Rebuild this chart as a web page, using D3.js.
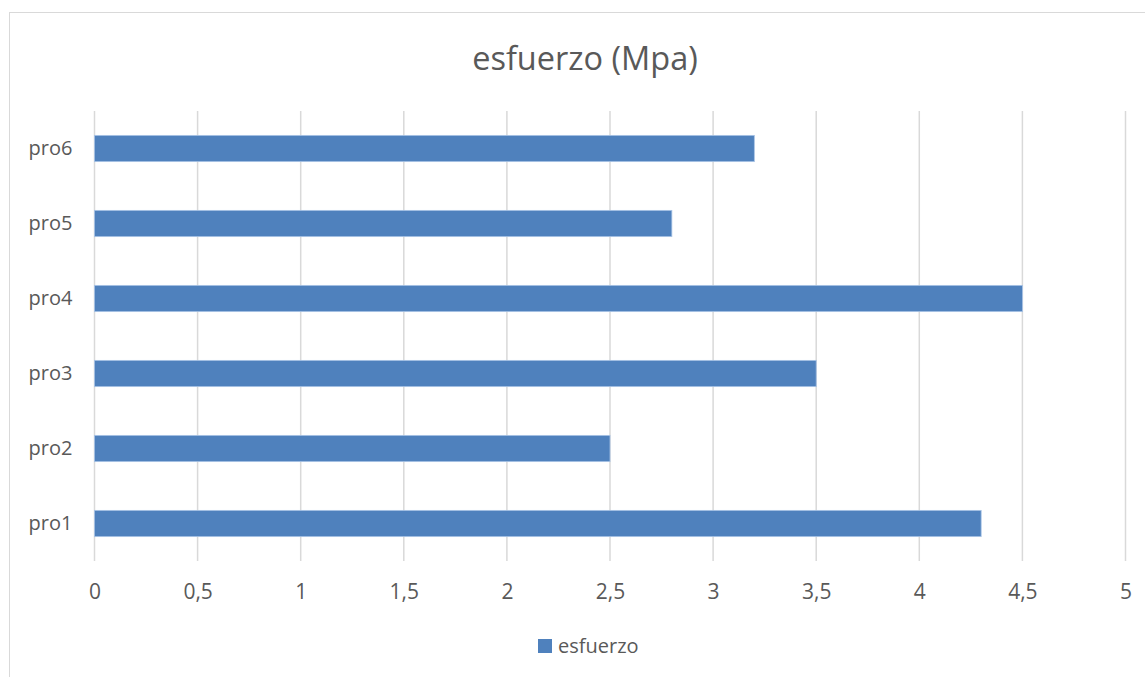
<!DOCTYPE html>
<html>
<head>
<meta charset="utf-8">
<script src="https://cdn.jsdelivr.net/npm/d3@7"></script>
<style>
  body { margin: 0; background: #fff; }
  text { font-family: "Open Sans", "Liberation Sans", sans-serif; fill: #595959; }
</style>
</head>
<body>
<div id="chart"></div>
<script>
var width = 1145;
var height = 677;

// data
var categories = ["pro1", "pro2", "pro3", "pro4", "pro5", "pro6"];
var values = [4.3, 2.5, 3.5, 4.5, 2.8, 3.2];
var xTicks = [0, 0.5, 1, 1.5, 2, 2.5, 3, 3.5, 4, 4.5, 5];
var seriesName = "esfuerzo";
var chartTitle = "esfuerzo (Mpa)";

var margin = {left: 94.5, right: 19.5, top: 111, bottom: 116};

var svg = d3.select("#chart")
    .append("svg")
    .attr("width", width)
    .attr("height", height);

// outer chart border (right and bottom sit outside the picture)
svg.append("rect")
    .attr("x", 9.5)
    .attr("y", 12.5)
    .attr("width", 1150)
    .attr("height", 700)
    .attr("fill", "none")
    .attr("stroke", "#d9d9d9");

var x = d3.scaleLinear()
    .domain([0, 5])
    .range([margin.left, width - margin.right]);

// pro1 at the bottom, pro6 at the top
var y = d3.scaleBand()
    .domain(categories.slice().reverse())
    .range([margin.top, height - margin.bottom])
    .paddingInner(0.65)
    .paddingOuter(0.325);

// gridlines
svg.append("g")
    .selectAll("line")
    .data(xTicks)
    .enter()
    .append("line")
    .attr("x1", function(d){ return x(d); })
    .attr("x2", function(d){ return x(d); })
    .attr("y1", margin.top)
    .attr("y2", height - margin.bottom)
    .attr("stroke", "#d9d9d9")
    .attr("stroke-width", 1.5);

// bars
svg.append("g")
    .selectAll("rect")
    .data(values)
    .enter()
    .append("rect")
    .attr("x", x(0))
    .attr("y", function(d, i){ return y(categories[i]); })
    .attr("width", function(d){ return x(d) - x(0); })
    .attr("height", y.bandwidth())
    .attr("fill", "#4f81bd")
    .attr("stroke", "#a9c4e6")
    .attr("stroke-width", 0.8);

// x axis labels
var xAxis = d3.axisBottom(x)
    .tickValues(xTicks)
    .tickSize(0)
    .tickPadding(0)
    .tickFormat(function(d){ return String(d).replace(".", ","); });

var gx = svg.append("g")
    .attr("transform", "translate(0," + (height - margin.bottom + 23) + ")")
    .call(xAxis);
gx.select(".domain").remove();
gx.selectAll("text")
    .attr("font-size", "21px")
    .attr("font-family", "'Open Sans', sans-serif")
    .attr("fill", "#595959");

// y axis labels
var yAxis = d3.axisLeft(y)
    .tickSize(0)
    .tickPadding(22);

var gy = svg.append("g")
    .attr("transform", "translate(" + margin.left + ",0)")
    .call(yAxis);
gy.select(".domain").remove();
gy.selectAll("text")
    .attr("font-size", "20px")
    .attr("font-family", "'Open Sans', sans-serif")
    .attr("fill", "#595959");

// title
svg.append("text")
    .attr("x", 585)
    .attr("y", 70)
    .attr("text-anchor", "middle")
    .attr("font-size", "32.5px")
    .text(chartTitle);

// legend
var legend = svg.append("g")
    .attr("transform", "translate(538,639)");
legend.append("rect")
    .attr("width", 14)
    .attr("height", 14)
    .attr("fill", "#4f81bd");
legend.append("text")
    .attr("x", 20)
    .attr("y", 14)
    .attr("font-size", "20px")
    .text(seriesName);
</script>
</body>
</html>
